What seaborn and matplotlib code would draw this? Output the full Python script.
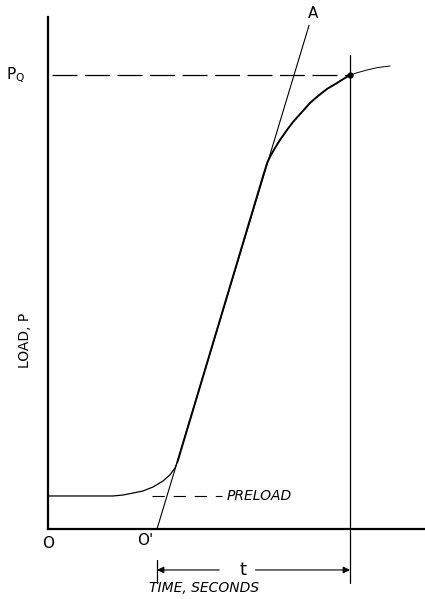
import matplotlib
matplotlib.use("Agg")
import matplotlib.pyplot as plt
import seaborn as sns
import pandas as pd

# Load-time record (arbitrary units)
curve_time = [0.0, 2.07, 2.39, 2.71, 3.02, 3.34, 3.66, 3.88, 4.04, 4.12,
              6.875, 6.986, 7.097, 7.225, 7.384, 7.607, 7.798, 8.084, 8.339,
              8.593, 8.880, 9.198, 9.453, 9.612, 9.867, 10.153, 10.503, 10.885]
curve_load = [0.645, 0.645, 0.664, 0.703, 0.742, 0.82, 0.9375, 1.055, 1.19, 1.31,
              6.953, 7.168, 7.305, 7.441, 7.598, 7.793, 7.949, 8.145, 8.320,
              8.457, 8.594, 8.711, 8.809, 8.867, 8.916, 8.965, 9.014, 9.043]

# Tangent line O'-A
tangent_time = [3.47, 8.31]
tangent_load = [0.0, 9.84]

P_Q = 8.87
PRELOAD = 0.645
t_origin = 3.47      # O'
t_end = 9.612        # time at P_Q
preload_dash = [3.31, 5.54]

sns.set_style("white")
plt.rcParams['font.family'] = ['DejaVu Sans']
plt.rcParams['text.color'] = 'black'

fig = plt.figure(figsize=(4.25, 5.99), dpi=100)
ax = fig.add_axes([48 / 425, 70 / 599, 377 / 425, 512 / 599])
ax.set_xlim(0, 12)
ax.set_ylim(0, 10)

curve = pd.DataFrame({"time": curve_time, "load": curve_load})
tang = pd.DataFrame({"time": tangent_time, "load": tangent_load})

low = curve[curve.time <= 4.12]
mid = curve[(curve.time >= 4.12) & (curve.time <= t_end)]
high = curve[curve.time >= t_end]

sns.lineplot(data=low, x="time", y="load", color="black", lw=0.9,
             estimator=None, sort=False, ax=ax)
sns.lineplot(data=mid, x="time", y="load", color="black", lw=1.4,
             estimator=None, sort=False, ax=ax)
sns.lineplot(data=high, x="time", y="load", color="black", lw=0.7,
             estimator=None, sort=False, ax=ax)
sns.lineplot(data=tang, x="time", y="load", color="black", lw=0.8,
             estimator=None, sort=False, ax=ax, clip_on=False)

# P_Q level and time line
ax.plot([0.13, t_end], [P_Q, P_Q], color="black", lw=0.9, ls=(0, (20, 6)))
ax.plot([t_end, t_end], [-1.05, 9.26], color="black", lw=0.9, clip_on=False)
ax.plot([t_origin, t_origin], [-0.6, -1.05], color="black", lw=0.9, clip_on=False)
ax.plot([t_end], [P_Q], marker="o", ms=3.5, color="black")

# preload marker
ax.plot(preload_dash, [PRELOAD, PRELOAD], color="black", lw=0.8, ls=(0, (11, 8)))
ax.text(5.70, PRELOAD, "PRELOAD", fontsize=10, style="italic", va="center", ha="left")

# t dimension
t_mid = 6.2
ax.text(t_mid, -0.80, "t", fontsize=13, ha="center", va="center")
arrow = dict(arrowstyle="-|>", color="black", lw=0.8, mutation_scale=10, shrinkA=0, shrinkB=0)
ax.annotate("", xy=(t_origin, -0.80), xytext=(t_mid - 0.75, -0.80), arrowprops=arrow,
            annotation_clip=False)
ax.annotate("", xy=(t_end, -0.80), xytext=(t_mid + 0.4, -0.80), arrowprops=arrow,
            annotation_clip=False)

# labels
ax.text(0.0, -0.28, "O", fontsize=11, ha="center", va="center")
ax.text(3.1, -0.22, "O'", fontsize=11, ha="center", va="center")
ax.text(8.43, 10.06, "A", fontsize=11, ha="center", va="center")
ax.text(-1.02, P_Q, r"P$_\mathregular{Q}$", fontsize=11, ha="center", va="center")
ax.text(-0.73, 3.69, "LOAD, P", fontsize=10, rotation=90, ha="center", va="center")
ax.text(4.97, -1.15, "TIME, SECONDS", fontsize=10, style="italic", ha="center", va="center")

for s in ["top", "right"]:
    ax.spines[s].set_visible(False)
for s in ["left", "bottom"]:
    ax.spines[s].set_linewidth(1.6)
    ax.spines[s].set_color("black")
ax.set_xticks([])
ax.set_yticks([])
ax.set_xlabel("")
ax.set_ylabel("")

fig.savefig("out.png", dpi=100)
